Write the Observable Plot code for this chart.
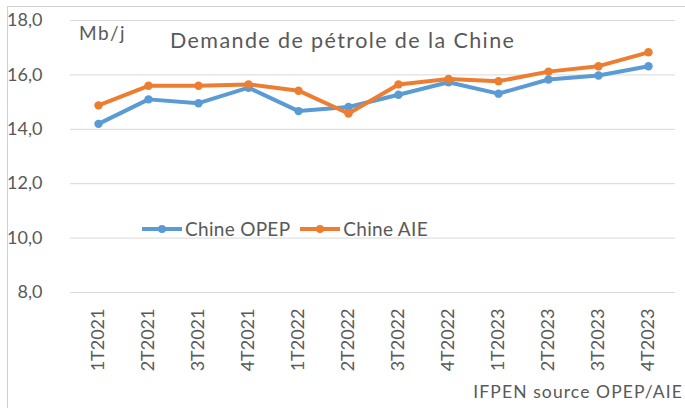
<!DOCTYPE html>
<html>
<head>
<meta charset="utf-8">
<script src="https://cdn.jsdelivr.net/npm/d3@7"></script>
<script src="https://cdn.jsdelivr.net/npm/@observablehq/plot@0.6"></script>
<style>
  html, body { margin: 0; padding: 0; background: #fff; }
  #wrap { position: relative; width: 685px; height: 408px; overflow: hidden; font-family: Lato, "Open Sans", sans-serif; color: #595959; }
  #frame { position: absolute; left: 7px; top: 6px; width: 700px; height: 420px; border-left: 1px solid #d0d0d0; border-top: 1px solid #d0d0d0; box-sizing: border-box; }
  .abs { position: absolute; white-space: nowrap; }
  #title { left: 170px; top: 27px; font-size: 21.5px; letter-spacing: 1.4px; }
  #unit { left: 79px; top: 21px; font-size: 19px; letter-spacing: 1.5px; }
  #caption { right: 2px; top: 381px; font-size: 17.5px; letter-spacing: 1.1px; }
  #legend { left: 142px; top: 217px; font-size: 19px; display: flex; align-items: center; }
  .sw { position: relative; width: 40px; height: 4px; margin-right: 3px; }
  .sw i { position: absolute; left: 16px; top: -2px; width: 8px; height: 8px; border-radius: 50%; }
  .item { display: flex; align-items: center; margin-right: 10px; letter-spacing: 0.3px; }
</style>
</head>
<body>
<div id="wrap">
  <div id="chart"></div>
  <div id="frame"></div>
  <div class="abs" id="unit">Mb/j</div>
  <div class="abs" id="title">Demande de pétrole de la Chine</div>
  <div class="abs" id="legend"></div>
  <div class="abs" id="caption">IFPEN source OPEP/AIE</div>
</div>
<script>
const quarters = ["1T2021","2T2021","3T2021","4T2021","1T2022","2T2022","3T2022","4T2022","1T2023","2T2023","3T2023","4T2023"];
const opep = [14.2, 15.1, 14.96, 15.53, 14.67, 14.82, 15.27, 15.73, 15.31, 15.83, 15.98, 16.32];
const aie  = [14.88, 15.6, 15.6, 15.65, 15.42, 14.58, 15.65, 15.85, 15.77, 16.12, 16.32, 16.83];
const seriesNames = ["Chine OPEP", "Chine AIE"];
const seriesColors = ["#5b9bd5", "#ed7d31"];
const yTicks = [8, 10, 12, 14, 16, 18];

const rows = [];
quarters.forEach((q, i) => {
  rows.push({q, v: opep[i], s: seriesNames[0]});
  rows.push({q, v: aie[i], s: seriesNames[1]});
});

const fmt = d => d.toFixed(1).replace(".", ",");

const plot = Plot.plot({
  width: 685,
  height: 408,
  marginLeft: 70,
  marginRight: 10,
  marginTop: 20,
  marginBottom: 116,
  style: {background: "transparent", fontFamily: "Lato, 'Open Sans', sans-serif", color: "#595959"},
  x: {type: "point", domain: quarters, padding: 0.54, label: null},
  y: {domain: [8, 18], label: null},
  color: {domain: seriesNames, range: seriesColors},
  marks: [
    Plot.ruleY(yTicks, {stroke: "#d9d9d9", strokeWidth: 1}),
    Plot.axisY({ticks: yTicks, tickFormat: fmt, tickSize: 0, tickPadding: 28, fontSize: 18, fill: "#595959", label: null}),
    Plot.axisX({tickSize: 0, tickRotate: -90, tickPadding: 16, fontSize: 18, fill: "#595959", label: null}),
    Plot.line(rows, {x: "q", y: "v", z: "s", stroke: "s", strokeWidth: 4, strokeLinejoin: "round", strokeLinecap: "round"}),
    Plot.dot(rows, {x: "q", y: "v", fill: "s", r: 4.2})
  ]
});
document.getElementById("chart").appendChild(plot);

const legend = document.getElementById("legend");
seriesNames.forEach((n, i) => {
  const it = document.createElement("div");
  it.className = "item";
  it.innerHTML = `<div class="sw" style="background:${seriesColors[i]}"><i style="background:${seriesColors[i]}"></i></div><span>${n}</span>`;
  legend.appendChild(it);
});
</script>
</body>
</html>
